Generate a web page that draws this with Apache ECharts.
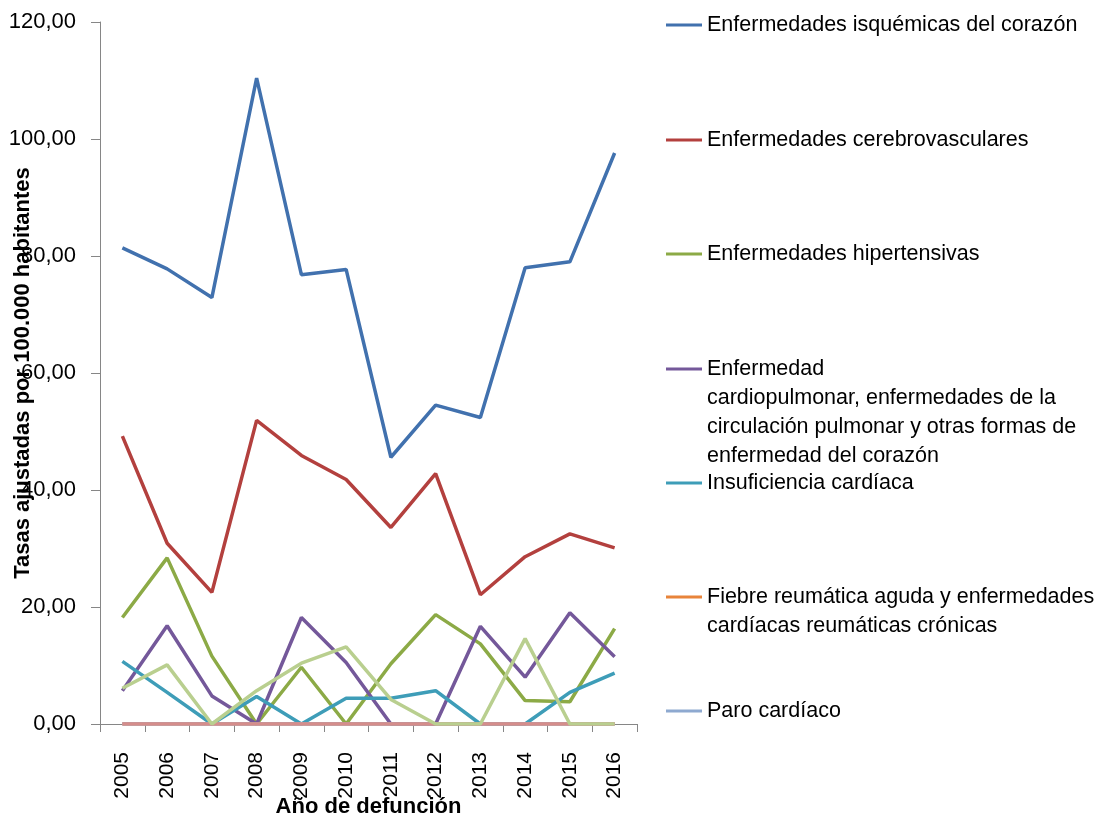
<!DOCTYPE html>
<html><head><meta charset="utf-8">
<script src="https://cdn.jsdelivr.net/npm/echarts@6/dist/echarts.min.js"></script>
<style>html,body{margin:0;padding:0;background:#fff}#c{width:1100px;height:817px}</style>
</head><body><div id="c"></div>
<script>
const years = ['2005','2006','2007','2008','2009','2010','2011','2012','2013','2014','2015','2016'];
const yTickLabels = ['0,00','20,00','40,00','60,00','80,00','100,00','120,00'];
const names = [
  'Enfermedades isquémicas del corazón',
  'Enfermedades cerebrovasculares',
  'Enfermedades hipertensivas',
  'Enfermedad cardiopulmonar, enfermedades de la circulación pulmonar y otras formas de enfermedad del corazón',
  'Insuficiencia cardíaca',
  'Fiebre reumática aguda y enfermedades cardíacas reumáticas crónicas',
  'Paro cardíaco',
  'Serie 8',
  'Serie 9'
];
const legendLabels = [
  'Enfermedades isquémicas del corazón',
  'Enfermedades cerebrovasculares',
  'Enfermedades hipertensivas',
  'Enfermedad\ncardiopulmonar, enfermedades de la\ncirculación pulmonar y otras formas de\nenfermedad del corazón',
  'Insuficiencia cardíaca',
  'Fiebre reumática aguda y enfermedades\ncardíacas reumáticas crónicas',
  'Paro cardíaco'
];
const isquemicas      = [81.4, 77.8, 72.9, 110.4, 76.8, 77.7, 45.6, 54.5, 52.4, 78.0, 79.0, 97.6];
const cerebrovasc     = [49.2, 30.9, 22.5, 51.9, 45.9, 41.8, 33.6, 42.8, 22.1, 28.6, 32.5, 30.1];
const hipertensivas   = [18.2, 28.4, 11.6, 0, 9.7, 0, 10.3, 18.7, 13.7, 4.0, 3.8, 16.3];
const cardiopulmonar  = [5.7, 16.8, 4.8, 0, 18.2, 10.5, 0, 0, 16.7, 8.0, 19.0, 11.5];
const insuficiencia   = [10.7, 5.4, 0, 4.7, 0, 4.4, 4.4, 5.7, 0, 0, 5.4, 8.7];
const fiebreReum      = [0, 0, 0, 0, 0, 0, 0, 0, 0, 0, 0, 0];
const paroCardiaco    = [0, 0, 0, 0, 0, 0, 0, 0, 0, 0, 0, 0];
const serie8          = [0, 0, 0, 0, 0, 0, 0, 0, 0, 0, 0, 0];
const serie9          = [6.1, 10.1, 0, 5.7, 10.4, 13.2, 4.2, 0, 0, 14.6, 0, 0];
const allData = [isquemicas, cerebrovasc, hipertensivas, cardiopulmonar, insuficiencia, fiebreReum, paroCardiaco, serie8, serie9];
const colors = ['#4171AE','#B3403E','#8CAA46','#74589A','#3E9DB8','#E8843A','#8EA9D0','#D58D8B','#B9CF8F'];

const FONT = "'Liberation Sans', Arial, sans-serif";
const legendY = [25, 140, 254, 369, 483, 597, 711];
const LH = 29;
const legends = legendLabels.map((lab, i) => {
  const n = lab.split('\n').length;
  const txt = '\n'.repeat(n - 1) + lab;
  return {
    data: [names[i]],
    left: 666,
    top: legendY[i] - (2 * n - 1) * LH / 2,
    padding: 0,
    orient: 'vertical',
    icon: 'rect',
    itemWidth: 36,
    itemHeight: 3,
    selectedMode: false,
    formatter: () => txt,
    textStyle: { fontFamily: FONT, fontSize: 21.5, color: '#000', lineHeight: LH }
  };
});

const chart = echarts.init(document.getElementById('c'));
chart.setOption({
  animation: false,
  backgroundColor: '#fff',
  color: colors,
  grid: { left: 100, right: 463, top: 22, bottom: 93, outerBoundsMode: 'none', containLabel: false },
  legend: legends,
  xAxis: {
    type: 'category',
    data: years,
    boundaryGap: true,
    name: 'Año de defunción',
    nameLocation: 'middle',
    nameGap: 72,
    nameMoveOverlap: false,
    nameTextStyle: { fontFamily: FONT, fontSize: 22, fontWeight: 'bold', color: '#000' },
    axisLine: { lineStyle: { color: '#868686', width: 1 } },
    axisTick: { show: true, length: 8, alignWithLabel: false, lineStyle: { color: '#868686' } },
    axisLabel: { rotate: 90, margin: 28, fontFamily: FONT, fontSize: 21, color: '#000' }
  },
  yAxis: {
    type: 'value',
    min: 0, max: 120, interval: 20,
    name: 'Tasas ajustadas por 100.000 habitantes',
    nameLocation: 'middle',
    nameGap: 66,
    nameMoveOverlap: false,
    nameTextStyle: { fontFamily: FONT, fontSize: 22, fontWeight: 'bold', color: '#000' },
    axisLine: { show: true, lineStyle: { color: '#868686', width: 1 } },
    axisTick: { show: true, length: 9, lineStyle: { color: '#868686' } },
    splitLine: { show: false },
    axisLabel: {
      margin: 24, fontFamily: FONT, fontSize: 22, color: '#000',
      formatter: v => yTickLabels[Math.round(v / 20)]
    }
  },
  series: allData.map((d, i) => ({
    name: names[i],
    type: 'line',
    data: d,
    showSymbol: false,
    symbol: 'none',
    lineStyle: { width: 3.5, color: colors[i] },
    itemStyle: { color: colors[i] },
    z: 2 + i
  }))
});
</script>
</body></html>
